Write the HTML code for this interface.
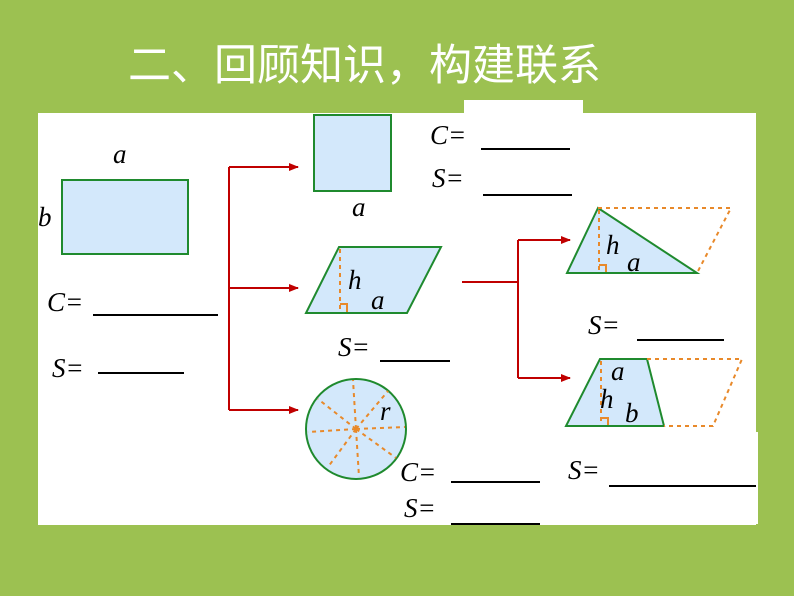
<!DOCTYPE html>
<html><head><meta charset="utf-8"><style>
body{margin:0;width:794px;height:596px;background:#9cc151;overflow:hidden}
svg{display:block}
text{font-family:"Liberation Serif",serif;font-style:italic;font-size:27px;fill:#000}
.t{font-family:"Liberation Sans","Noto Sans CJK SC",sans-serif;font-style:normal;font-size:43px;fill:#fff}
</style></head><body>
<svg width="794" height="596" viewBox="0 0 794 596">
<defs><marker id="ar" markerWidth="10" markerHeight="8" refX="9" refY="4" orient="auto" markerUnits="userSpaceOnUse"><path d="M0,0 L10,4 L0,8Z" fill="#c00000"/></marker></defs>
<text x="128" y="80" class="t">二、回顾知识，构建联系</text>
<rect x="38" y="113" width="718" height="412" fill="#fff"/>
<rect x="464" y="100" width="119" height="20" fill="#fff"/>
<rect x="540" y="432" width="218" height="92" fill="#fff"/>
<g fill="#d3e8fb" stroke="#1f8a2e" stroke-width="2">
<rect x="62" y="180" width="126" height="74"/>
<rect x="314" y="115" width="77" height="76"/>
<polygon points="339,247 441,247 407,313 306,313"/>
<circle cx="356" cy="429" r="50"/>
<polygon points="598,208 567,273 697,273"/>
<polygon points="600,359 647,359 664,426 566,426"/>
</g>
<g stroke="#e8892a" stroke-width="2" stroke-dasharray="4,4" fill="none">
<line x1="340" y1="249" x2="340" y2="312"/>
<polyline points="598,208 731,208 697,273"/>
<line x1="599" y1="210" x2="599" y2="272"/>
<polyline points="647,359 742,359 713,426 664,426"/>
<line x1="601" y1="361" x2="601" y2="425"/>
<path d="M356,429L353,380M356,429L388,391M356,429L405,427M356,429L396,458M356,429L359,477M356,429L328,467M356,429L308,432M356,429L318,399"/>
</g>
<g stroke="#e8892a" stroke-width="2" fill="none">
<polyline points="340,304 347,304 347,312"/>
<polyline points="599,265 606,265 606,272"/>
<polyline points="601,418 608,418 608,425"/>
</g>
<g stroke="#c00000" stroke-width="2" fill="none">
<polyline points="229,167 229,410"/>
<line x1="229" y1="167" x2="298" y2="167" marker-end="url(#ar)"/>
<line x1="229" y1="410" x2="298" y2="410" marker-end="url(#ar)"/>
<line x1="229" y1="288" x2="298" y2="288" marker-end="url(#ar)"/>
<line x1="462" y1="282" x2="518" y2="282"/>
<line x1="518" y1="240" x2="518" y2="378"/>
<line x1="518" y1="240" x2="570" y2="240" marker-end="url(#ar)"/>
<line x1="518" y1="378" x2="570" y2="378" marker-end="url(#ar)"/>
</g>
<g stroke="#000" stroke-width="2">
<line x1="93" y1="315" x2="218" y2="315"/>
<line x1="98" y1="373" x2="184" y2="373"/>
<line x1="481" y1="149" x2="570" y2="149"/>
<line x1="483" y1="195" x2="572" y2="195"/>
<line x1="380" y1="361" x2="450" y2="361"/>
<line x1="637" y1="340" x2="724" y2="340"/>
<line x1="451" y1="482" x2="540" y2="482"/>
<line x1="451" y1="524" x2="540" y2="524"/>
<line x1="609" y1="486" x2="756" y2="486"/>
</g>
<text x="113" y="163">a</text><text x="38" y="226">b</text>
<text x="47" y="311">C=</text><text x="52" y="377">S=</text>
<text x="352" y="216">a</text>
<text x="430" y="144">C=</text><text x="432" y="187">S=</text>
<text x="348" y="289">h</text><text x="371" y="309">a</text>
<text x="338" y="356">S=</text>
<text x="380" y="420">r</text>
<text x="606" y="254">h</text><text x="627" y="271">a</text>
<text x="588" y="334">S=</text>
<text x="611" y="380">a</text><text x="600" y="408">h</text><text x="625" y="422">b</text>
<text x="400" y="481">C=</text><text x="404" y="517">S=</text>
<text x="568" y="479">S=</text>
</svg>
</body></html>
